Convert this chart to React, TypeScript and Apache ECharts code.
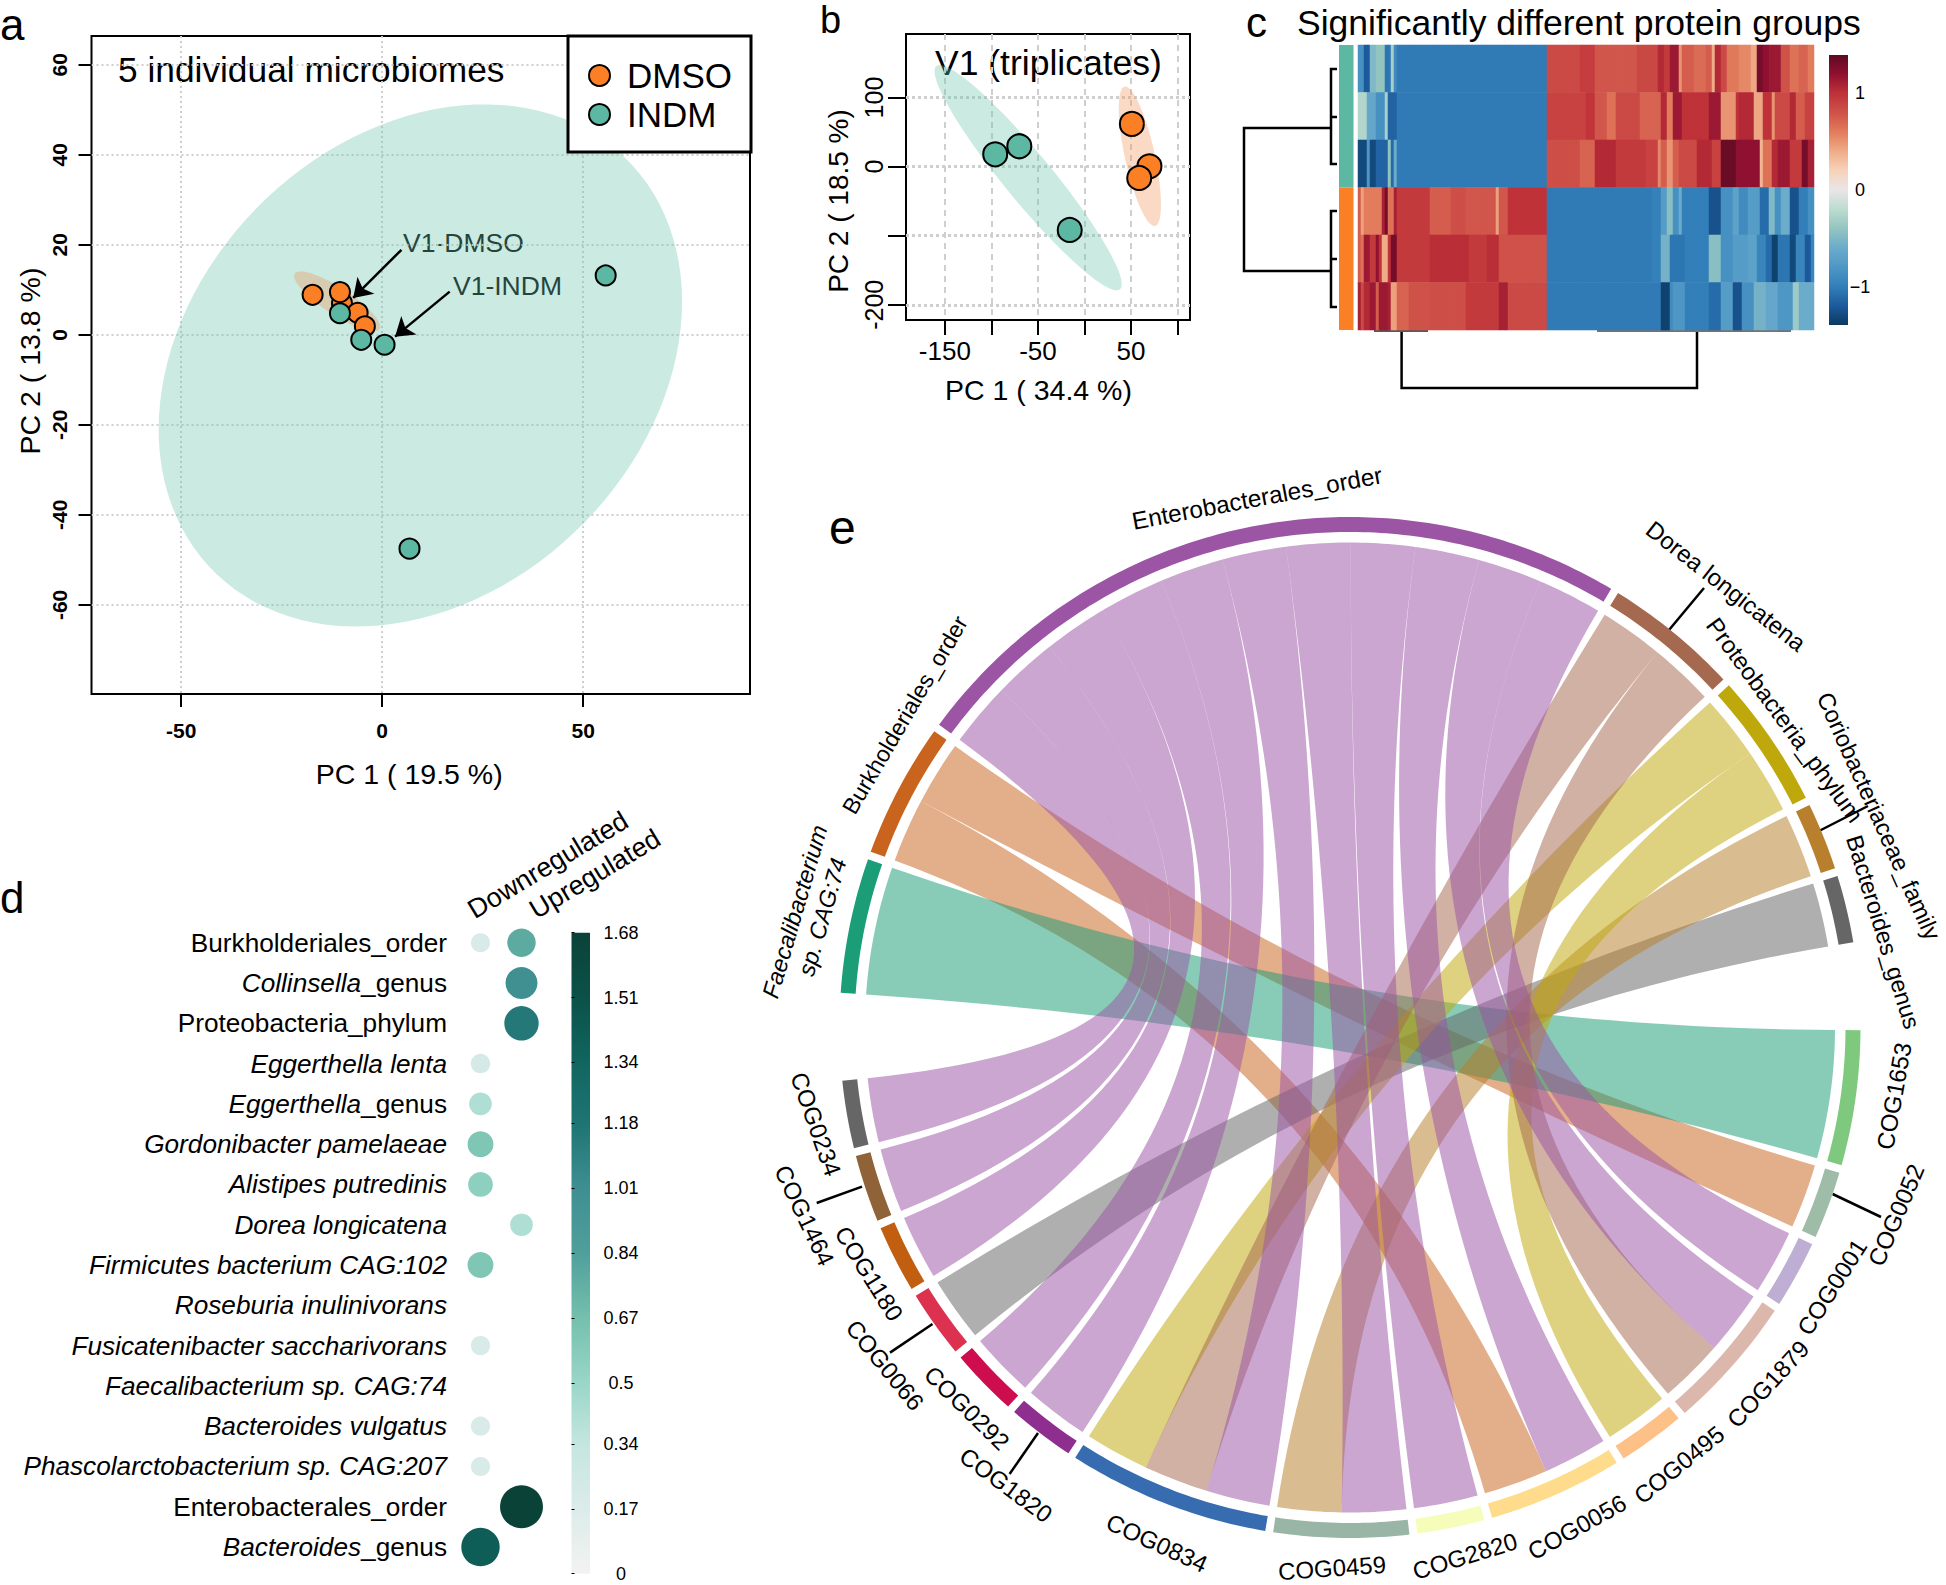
import React, { useEffect, useRef } from "react";
import * as echarts from "echarts";

const FONT = "Liberation Sans";

/* ---------- panel a ---------- */
const aDmso = [[-17.3, 8.9], [-10, 7], [-10.5, 9.5], [-6.1, 4.9], [-4.3, 1.9]];
const aIndm = [[-10.5, 4.8], [-5.2, -1.1], [0.6, -2.2], [55.6, 13.2], [6.8, -47.5]];
// centre x, centre y, half extent x, half extent y, cos(phase) of the tilt
const aEllipseIndm = [9.5, -6.8, 65.1, 58, 0.245];
const aEllipseDmso = [-11.2, 7.45, 10.7, 6.65, -0.85];
const aXTicks = [-50, 0, 50];
const aYTicks = [-60, -40, -20, 0, 20, 40, 60];
const aArrows = [
  { name: "V1-DMSO", from: [4.8, 18.9], to: [-7.2, 8.2] },
  { name: "V1-INDM", from: [16.8, 9.6], to: [3.2, -0.4] },
];

/* ---------- panel b ---------- */
const bDmso = [[51, 61.9], [69.9, 0.5], [58.9, -16.4]];
const bIndm = [[-70, 29.5], [-95.9, 17.9], [-15.8, -91.7]];
const bEllipseIndm = [-60.5, -16, 100.6, 163, -0.945];
const bEllipseDmso = [59.6, 15, 22.7, 101, -0.69];
const bXTicks = [-150, -100, -50, 0, 50, 100];
const bXLabels = [-150, -50, 50];
const bYTicks = [-200, -100, 0, 100];
const bYLabels = [-200, 0, 100];

/* ---------- panel c: rows as runs of [value, column count] ---------- */
const cRowRuns: number[][][] = [
  [[-.85,2],[-1.2,2],[-.5,2],[-.4,3],[-1.05,2],[-.3,1],[-.9,1],[-1.02,50],
   [.85,11],[.93,5],[.78,14],[.86,7],[1.05,2],[.95,2],[1.15,3],[.5,1],[.75,4],[.68,4],[.75,2],[.4,1],[1.05,2],[.85,2],[.62,4],[.55,4],[.42,2],[1.3,2],[1.2,2],[1.15,4],[.8,3],[.65,3],[.72,3],[.6,2]],
  [[-.25,3],[-.65,3],[-.85,3],[-.3,1],[-1.15,3],[-1.02,50],
   [.9,13],[.98,3],[.78,4],[.65,3],[.85,8],[.72,7],[1.05,2],[.6,2],[1.15,3],[1,9],[1.15,4],[.5,5],[1,1],[1.05,5],[.42,3],[1,3],[.5,1],[.85,5],[1.05,2],[.75,3],[.9,3]],
  [[-1.3,3],[-.8,1],[-1.3,2],[-1.15,4],[-.4,1],[-1.1,1],[-.6,1],[-1.02,50],
   [.82,11],[.72,5],[1.05,7],[.95,10],[.9,4],[.55,1],[.75,2],[.5,2],[.75,2],[.85,6],[1.05,5],[.9,3],[1.35,5],[1.2,8],[.35,1],[.65,3],[1.05,2],[1.15,4],[.95,4],[1.3,2],[1.1,2]],
  [[.75,1],[.45,1],[.6,6],[1.1,1],[1.3,1],[.65,2],[1.1,1],[.95,11],[.75,7],[.82,5],[.78,10],[.45,1],[.78,3],[1,13],
   [-1.02,35],[-.98,3],[-.75,2],[-.45,2],[-.85,2],[-.6,1],[-1,9],[-1.25,4],[-.85,4],[-.7,2],[-.9,3],[-.75,4],[-1.1,3],[-.5,2],[-.85,2],[-.6,3],[-1.25,3],[-1,3],[-.85,2]],
  [[.75,1],[.65,1],[1.15,2],[.95,2],[1.2,1],[1,1],[.4,2],[1,1],[1.3,2],[.95,11],[1.02,13],[.95,6],[1.02,4],[.8,16],
   [-1.02,35],[-.98,3],[-.55,3],[-1.05,5],[-1,8],[-.45,4],[-.85,4],[-.75,5],[-.7,3],[-.95,3],[-1.1,2],[-1.35,2],[-1.05,4],[-1.3,2],[-.95,3],[-1.2,2],[-.95,1]],
  [[1.1,1],[.85,1],[1.05,2],[1.15,2],[.75,1],[1.15,3],[1.1,1],[.45,2],[.72,4],[.8,7],[.82,12],[.95,11],[1.1,3],[.85,13],
   [-1.02,38],[-1.35,3],[-.9,1],[-.8,4],[-1,8],[-1.1,4],[-.75,4],[-1.25,3],[-.85,4],[-.55,4],[-.65,4],[-.8,5],[-.35,2],[-.6,5]],
];
const cGroups = ["INDM", "DMSO"];
const cGroupColors = ["#5cb8a2", "#fb7f24"];
const cScale = ["#0b3a60","#1c5a9c","#327fb9","#4e97c5","#6baccb","#93c4c0","#bcdcd0","#e9e6e6","#f6d3ba","#efac88","#e27c5c","#cf5249","#bf3238","#8f1030","#5e0a24"];
const cBarTicks = [-1, 0, 1];

/* ---------- panel d ---------- */
const dRows = [
  "Burkholderiales_order","Collinsella_genus","Proteobacteria_phylum","Eggerthella lenta","Eggerthella_genus",
  "Gordonibacter pamelaeae","Alistipes putredinis","Dorea longicatena","Firmicutes bacterium CAG:102","Roseburia inulinivorans",
  "Fusicatenibacter saccharivorans","Faecalibacterium sp. CAG:74","Bacteroides vulgatus","Phascolarctobacterium sp. CAG:207",
  "Enterobacterales_order","Bacteroides_genus",
];
const dRowItalic = [false,true,false,true,true,true,true,true,true,true,true,true,true,true,false,true];
const dColumns = ["Downregulated", "Upregulated"];
const dDown = [0.2,null,null,0.22,0.42,0.62,0.55,null,0.62,null,0.2,null,0.2,0.2,null,1.4];
const dUp = [0.78,1,1.15,null,null,null,null,0.42,null,null,null,null,null,null,1.68,null];
const dScale = ["#f2f3f1","#dcecea","#c5e6e0","#98d6c7","#74bfad","#509f9b","#3f8f92","#1f7573","#10655f","#0b5148","#0a4238"];
const dBarTicks = [0,0.17,0.34,0.5,0.67,0.84,1.01,1.18,1.34,1.51,1.68];

/* ---------- panel e ---------- */
const eSectors = [
  "Faecalibacterium sp. CAG:74","Burkholderiales_order","Enterobacterales_order","Dorea longicatena","Proteobacteria_phylum",
  "Coriobacteriaceae_family","Bacteroides_genus","COG1653","COG0052","COG0001","COG1879","COG0495","COG0056","COG2820",
  "COG0459","COG0834","COG1820","COG0292","COG0066","COG1180","COG1464","COG0234",
];
const eSectorColors = [
  "#1b9e77","#c9641e","#9c55a5","#a5694f","#bfa80b","#b87f2c","#666666","#7fc97f","#9fbca9","#beaed4","#dcb7ab","#fdc086",
  "#fedc8c","#f6fdba","#99b5a5","#386cb0","#8e2e8f","#ce0d4e","#dd3150","#c25e10","#8f6238","#666666",
];
const eLinkSource = [
  "Enterobacterales_order","Enterobacterales_order","Enterobacterales_order","Enterobacterales_order","Enterobacterales_order","Enterobacterales_order",
  "Enterobacterales_order","Enterobacterales_order","Enterobacterales_order","Enterobacterales_order","Enterobacterales_order",
  "Dorea longicatena","Dorea longicatena","Proteobacteria_phylum","Proteobacteria_phylum","Coriobacteriaceae_family","Bacteroides_genus",
  "Faecalibacterium sp. CAG:74","Burkholderiales_order","Burkholderiales_order",
];
const eLinkTarget = [
  "COG0234","COG1464","COG1180","COG0292","COG1820","COG0834","COG0459","COG2820","COG0056","COG1879","COG0001",
  "COG0834","COG1879","COG0834","COG0495","COG0459","COG0066","COG1653","COG0056","COG0052",
];
const eLinkValue = [1,1,1,1,1,1,1,1,1,1,1,1,1,1,1,1,1,2,1,1];

/* ---------- chord layout, all angles clockwise from twelve o'clock ---------- */
const CX = 1350, CY = 1027.5, R_OUT = 510.5, R_IN = 495.5, R_LINK = 485;
const START = 273.9, GAP = 0.9, BIG_GAP = 9.9;
const BIG_GAP_AFTER = ["Bacteroides_genus", "COG0234"];
const sectorUnits = eSectors.map((n) =>
  eLinkValue.reduce((s, v, i) => s + (eLinkSource[i] === n || eLinkTarget[i] === n ? v : 0), 0));
const totalUnits = sectorUnits.reduce((a, b) => a + b, 0);
const DEG_PER_UNIT = (360 - BIG_GAP * 2 - GAP * (eSectors.length - 2)) / totalUnits;
const sectorStart: Record<string, number> = {};
const sectorEnd: Record<string, number> = {};
{
  let a = START;
  eSectors.forEach((n, i) => {
    sectorStart[n] = a;
    a += sectorUnits[i] * DEG_PER_UNIT;
    sectorEnd[n] = a;
    a += BIG_GAP_AFTER.includes(n) ? BIG_GAP : GAP;
  });
}
const cursor: Record<string, number> = { ...sectorStart };
const linkArcs = eLinkValue.map((v, i) => {
  const s = eLinkSource[i], t = eLinkTarget[i];
  const a0 = cursor[s]; cursor[s] += v * DEG_PER_UNIT;
  const b0 = cursor[t]; cursor[t] += v * DEG_PER_UNIT;
  return { a0, a1: a0 + v * DEG_PER_UNIT, b0, b1: b0 + v * DEG_PER_UNIT };
});
const polar = (deg: number, r: number) => {
  const t = (deg * Math.PI) / 180;
  return [CX + r * Math.sin(t), CY - r * Math.cos(t)];
};
const arcPts = (a0: number, a1: number, r: number) => {
  const n = Math.max(2, Math.ceil(Math.abs(a1 - a0) * 1.5));
  const p = [];
  for (let i = 0; i <= n; i++) p.push(polar(a0 + ((a1 - a0) * i) / n, r));
  return p;
};
const quadPts = (p0: number[], p2: number[]) => {
  const p = [];
  for (let i = 1; i < 48; i++) {
    const t = i / 48, u = 1 - t;
    p.push([u * u * p0[0] + 2 * u * t * CX + t * t * p2[0], u * u * p0[1] + 2 * u * t * CY + t * t * p2[1]]);
  }
  return p;
};
const rgba = (hex: string, a: number) => {
  const n = parseInt(hex.slice(1), 16);
  return `rgba(${n >> 16},${(n >> 8) & 255},${n & 255},${a})`;
};

/* ---------- helpers ---------- */
const text = (t: string, x: number, y: number, fontSize: number, o: any = {}) => ({
  type: "text", x, y, silent: true, rotation: ((o.rot || 0) * Math.PI) / 180,
  style: {
    text: t, fontSize, fontFamily: FONT, fontStyle: o.italic ? "italic" : "normal",
    fontWeight: o.bold ? "bold" : "normal", fill: "#000", align: o.align || "center", verticalAlign: "middle",
  },
});
const poly = (points: number[][], lineWidth = 2.5, stroke = "#000") => ({
  type: "polyline", silent: true, shape: { points }, style: { stroke, lineWidth, fill: null },
});
const ellipseSeries = (data: number[], color: string, gridIdx: number) => ({
  type: "custom", coordinateSystem: "cartesian2d", xAxisIndex: gridIdx, yAxisIndex: gridIdx, silent: true,
  data: [data],
  renderItem: (_: any, api: any) => {
    const [cx, cy, A, B, c] = [0, 1, 2, 3, 4].map((k) => api.value(k));
    const phi = Math.acos(c);
    const points = [];
    for (let i = 0; i < 120; i++) {
      const t = (i / 120) * Math.PI * 2;
      points.push(api.coord([cx + A * Math.cos(t), cy + B * Math.cos(t - phi)]));
    }
    return { type: "polygon", shape: { points }, style: { fill: color } };
  },
});
const pointSeries = (name: string, data: number[][], color: string, gridIdx: number, size: number) => ({
  name, type: "scatter", xAxisIndex: gridIdx, yAxisIndex: gridIdx, data, symbolSize: size, silent: true,
  itemStyle: { color, borderColor: "#000", borderWidth: 2, opacity: 1 },
});
const gradient = (cols: string[]) =>
  new echarts.graphic.LinearGradient(0, 0, 0, 1, [...cols].reverse().map((color, i) => ({ offset: i / (cols.length - 1), color })));

const GREEN = "rgba(102,194,172,0.35)";
const TAN = "rgba(240,150,90,0.35)";
const ORANGE = "#fb7f24";
const TEAL = "#5cb8a2";
const GRID_GREY = "#cfcfcf";

const App = () => {
  const ref = useRef<HTMLDivElement>(null);
  useEffect(() => {
    document.body.style.margin = "0";
    const chart = echarts.init(ref.current!, undefined, { renderer: "svg" });

    const cData: number[][] = [];
    cRowRuns.forEach((runs, r) => {
      let col = 0;
      runs.forEach(([v, n]) => { for (let k = 0; k < n; k++) cData.push([col++, r, v]); });
    });
    const cCols = Array.from({ length: 152 }, (_, i) => String(i));

    const dData: number[][] = [];
    dRows.forEach((_, i) => {
      if (dDown[i] != null) dData.push([0, i, dDown[i] as number]);
      if (dUp[i] != null) dData.push([1, i, dUp[i] as number]);
    });

    const axisFont = { color: "#000", fontFamily: FONT };
    const hiddenAxis = { show: false };
    const freeLine = { show: false, onZero: false };
    const gridBase = { outerBoundsMode: "none", containLabel: false };

    const labelPlaces: any[] = [
      ["Enterobacterales_order", 1257, 498, 10.6, 24.3],
      ["Dorea longicatena", 1726, 586, -38, 24],
      ["Proteobacteria_phylum", 1785, 720, -53.7, 24],
      ["Coriobacteriaceae_family", 1879, 816, -65.8, 23.8],
      ["Bacteroides_genus", 1883, 932, -72.9, 23.5],
      ["COG1653", 1894, 1096, 80, 24],
      ["COG0052", 1896, 1215, 67, 24],
      ["COG0001", 1832, 1287, 57.6, 24],
      ["COG1879", 1768, 1384, 47.4, 24],
      ["COG0495", 1679, 1464.6, 39, 24],
      ["COG0056", 1577, 1527, 29, 24],
      ["COG2820", 1465, 1556, 17, 24],
      ["COG0459", 1332, 1568, 4, 24],
      ["COG0834", 1157, 1543, -24.6, 24],
      ["COG1820", 1006, 1485, -36.5, 24],
      ["COG0292", 967, 1408, -44.4, 24],
      ["COG0066", 885, 1365, -51, 24],
      ["COG1180", 869, 1273.5, -58, 24],
      ["COG1464", 804.6, 1215.5, -64.6, 24],
      ["COG0234", 816, 1124, -70.6, 24],
      ["Burkholderiales_order", 905, 715, 59.7, 23],
    ];
    const leaders = [
      [[1669, 630], [1704, 588]],
      [[1819, 831], [1868, 806]],
      [[1832.6, 1194], [1881, 1217]],
      [[1009.6, 1474], [1038, 1433]],
      [[932.5, 1324], [890, 1352.6]],
      [[862, 1186.6], [816.7, 1203]],
    ];

    chart.setOption({
      animation: false,
      backgroundColor: "#fff",
      textStyle: { fontFamily: FONT },
      legend: {
        data: ["DMSO", "INDM"], selectedMode: false, orient: "vertical", left: 568, top: 36,
        icon: "circle", itemWidth: 21, itemHeight: 21, itemGap: 4,
        padding: [22, 19, 20, 20], backgroundColor: "#fff", borderColor: "#000", borderWidth: 3,
        textStyle: { fontSize: 35, fontFamily: FONT, color: "#000", padding: [0, 0, 0, 12] },
      },
      grid: [
        { ...gridBase, left: 91.5, top: 36, width: 658.5, height: 658, show: true, borderColor: "#000", borderWidth: 2 },
        { ...gridBase, left: 906, top: 34, width: 284, height: 286, show: true, borderColor: "#000", borderWidth: 2 },
        { ...gridBase, left: 1358, top: 45, width: 456, height: 285 },
        { ...gridBase, left: 1339, top: 45, width: 14.5, height: 285 },
        { ...gridBase, left: 1829, top: 55, width: 19, height: 270, show: true, borderWidth: 0, backgroundColor: gradient(cScale) },
        { ...gridBase, left: 460, top: 922.6, width: 82, height: 644.6 },
        { ...gridBase, left: 571.5, top: 932.7, width: 18.5, height: 641, show: true, borderWidth: 0, backgroundColor: gradient(dScale) },
      ],
      xAxis: [
        {
          gridIndex: 0, type: "value", min: -72.3, max: 91.5, name: "PC 1 ( 19.5 %)", nameLocation: "middle", nameGap: 65,
          nameTextStyle: { ...axisFont, fontSize: 28.5, padding: [0, 23, 0, 0] },
          axisLine: freeLine,
          axisTick: { show: true, length: 13, customValues: aXTicks, lineStyle: { color: "#000", width: 2 } },
          axisLabel: { ...axisFont, fontSize: 21, fontWeight: "bold", margin: 26, customValues: aXTicks },
          splitLine: { show: true, lineStyle: { color: GRID_GREY, width: 2, type: [2, 3] } },
        },
        {
          gridIndex: 1, type: "value", min: -191.8, max: 113.5, name: "PC 1 ( 34.4 %)", nameLocation: "middle", nameGap: 55,
          nameTextStyle: { ...axisFont, fontSize: 28.5, padding: [0, 19, 0, 0] },
          axisLine: freeLine,
          axisTick: { show: true, length: 15, customValues: bXTicks, lineStyle: { color: "#000", width: 2 } },
          axisLabel: { ...axisFont, fontSize: 26, margin: 18, customValues: bXLabels },
          splitLine: { show: true, lineStyle: { color: GRID_GREY, width: 2, type: [6, 5] } },
        },
        { gridIndex: 2, type: "category", data: cCols, ...hiddenAxis },
        { gridIndex: 3, type: "value", min: 0, max: 1, ...hiddenAxis },
        { gridIndex: 4, type: "value", min: 0, max: 1, ...hiddenAxis },
        { gridIndex: 5, type: "category", data: dColumns, ...hiddenAxis },
        { gridIndex: 6, type: "value", min: 0, max: 1, ...hiddenAxis },
      ],
      yAxis: [
        {
          gridIndex: 0, type: "value", min: -79.8, max: 66.4, name: "PC 2 ( 13.8 %)", nameLocation: "middle", nameGap: 47,
          nameTextStyle: { ...axisFont, fontSize: 28.5, padding: [0, 0, 0, 8] },
          axisLine: freeLine,
          axisTick: { show: true, length: 13, customValues: aYTicks, lineStyle: { color: "#000", width: 2 } },
          axisLabel: { ...axisFont, fontSize: 21, fontWeight: "bold", rotate: 90, margin: 22, customValues: aYTicks },
          splitLine: { show: true, lineStyle: { color: GRID_GREY, width: 2, type: [2, 3] } },
        },
        {
          gridIndex: 1, type: "value", min: -222, max: 192, name: "PC 2 ( 18.5 %)", nameLocation: "middle", nameGap: 54,
          nameTextStyle: { ...axisFont, fontSize: 28, padding: [0, 48, 0, 0] },
          axisLine: freeLine,
          axisTick: { show: true, length: 18, customValues: bYTicks, lineStyle: { color: "#000", width: 2 } },
          axisLabel: { ...axisFont, fontSize: 25, rotate: 90, margin: 20, customValues: bYLabels },
          splitLine: { show: true, lineStyle: { color: GRID_GREY, width: 3, type: [3, 3] } },
        },
        { gridIndex: 2, type: "category", inverse: true, data: ["r1","r2","r3","r4","r5","r6"], ...hiddenAxis },
        { gridIndex: 3, type: "category", inverse: true, data: cGroups, ...hiddenAxis },
        {
          gridIndex: 4, type: "value", position: "right", min: -1.39, max: 1.39,
          axisLine: { show: false }, axisTick: { show: false }, splitLine: { show: false },
          axisLabel: {
            ...axisFont, fontSize: 18, margin: 12, align: "center", customValues: cBarTicks,
            formatter: (v: number) => (v < 0 ? `\u2212${-v}` : `${v}`),
          },
        },
        {
          gridIndex: 5, type: "category", inverse: true, data: dRows,
          axisLine: { show: false }, axisTick: { show: false },
          axisLabel: {
            margin: 13, align: "right",
            formatter: (v: string) => {
              const i = dRows.indexOf(v);
              if (!dRowItalic[i]) return `{n|${v}}`;
              const u = v.indexOf("_");
              return u < 0 ? `{i|${v}}` : `{i|${v.slice(0, u)}}{n|${v.slice(u)}}`;
            },
            rich: {
              n: { ...axisFont, fontSize: 26.2 },
              i: { ...axisFont, fontSize: 26.2, fontStyle: "italic" },
            },
          },
        },
        {
          gridIndex: 6, type: "value", position: "right", min: 0, max: 1.68,
          axisLine: { show: false }, splitLine: { show: false },
          axisTick: { show: true, length: 3, customValues: dBarTicks, lineStyle: { color: "#000", width: 1 } },
          axisLabel: {
            ...axisFont, fontSize: 18, margin: 31, align: "center", customValues: dBarTicks,
            formatter: (v: number) => `${v}`,
          },
        },
      ],
      visualMap: [
        { show: false, type: "continuous", min: -1.4, max: 1.4, dimension: 2, seriesIndex: 9, inRange: { color: cScale } },
        { show: false, type: "continuous", min: 0, max: 1.68, dimension: 2, seriesIndex: 11, inRange: { color: dScale } },
      ],
      series: [
        ellipseSeries(aEllipseIndm, GREEN, 0),                       // 0
        ellipseSeries(aEllipseDmso, TAN, 0),                         // 1
        pointSeries("DMSO", aDmso, ORANGE, 0, 20),                   // 2
        pointSeries("INDM", aIndm, TEAL, 0, 20),                     // 3
        {                                                            // 4
          type: "line", xAxisIndex: 0, yAxisIndex: 0, data: [], silent: true,
          markLine: {
            silent: true, symbol: ["none", "arrow"], symbolSize: 18, label: { show: false }, animation: false,
            lineStyle: { color: "#000", width: 2.5, type: "solid" },
            data: aArrows.map((a) => [{ coord: a.from }, { coord: a.to }]),
          },
        },
        ellipseSeries(bEllipseIndm, GREEN, 1),                       // 5
        ellipseSeries(bEllipseDmso, TAN, 1),                         // 6
        pointSeries("DMSO", bDmso, ORANGE, 1, 24),                   // 7
        pointSeries("INDM", bIndm, TEAL, 1, 24),                     // 8
        {                                                            // 9
          type: "heatmap", xAxisIndex: 2, yAxisIndex: 2, data: cData, silent: true, progressive: 0,
          itemStyle: { borderWidth: 0 },
        },
        {                                                            // 10
          type: "bar", xAxisIndex: 3, yAxisIndex: 3, barWidth: "100%", silent: true,
          data: cGroups.map((_, i) => ({ value: 1, itemStyle: { color: cGroupColors[i] } })),
        },
        {                                                            // 11
          type: "scatter", xAxisIndex: 5, yAxisIndex: 5, data: dData, silent: true,
          symbolSize: (v: number[]) => 16 + 16 * v[2], itemStyle: { opacity: 1, borderWidth: 0 },
        },
        {                                                            // 12 ribbons: last link drawn first, so Enterobacterales lies on top
          type: "custom", coordinateSystem: "none", silent: true, data: [...eLinkValue].reverse().map((v) => [v]),
          renderItem: (p: any) => {
            const k = eLinkValue.length - 1 - p.dataIndex;
            const { a0, a1, b0, b1 } = linkArcs[k];
            const c = eSectorColors[eSectors.indexOf(eLinkSource[k])];
            const A = arcPts(a0, a1, R_LINK), B = arcPts(b0, b1, R_LINK);
            const points = [...A, ...quadPts(A[A.length - 1], B[0]), ...B, ...quadPts(B[B.length - 1], A[0])];
            return { type: "polygon", shape: { points }, style: { fill: rgba(c, 0.52) } };
          },
        },
        {                                                            // 13 outer ring
          type: "custom", coordinateSystem: "none", silent: true, data: sectorUnits.map((v) => [v]),
          renderItem: (p: any) => {
            const n = eSectors[p.dataIndex];
            const points = [...arcPts(sectorStart[n], sectorEnd[n], R_OUT), ...arcPts(sectorEnd[n], sectorStart[n], R_IN)];
            return { type: "polygon", shape: { points }, style: { fill: eSectorColors[p.dataIndex] } };
          },
        },
      ],
      graphic: [
        text("a", 0, 24, 44, { align: "left" }),
        text("b", 820, 20, 38, { align: "left" }),
        text("c", 1246, 22, 42, { align: "left" }),
        text("d", 0, 897, 44, { align: "left" }),
        text("e", 829, 527, 48, { align: "left" }),
        text("5 individual microbiomes", 118, 69, 35.3, { align: "left" }),
        text("V1-DMSO", 403, 243, 26.5, { align: "left" }),
        text("V1-INDM", 453, 286, 26.5, { align: "left" }),
        text("V1 (triplicates)", 935, 63, 35.5, { align: "left" }),
        text("Significantly different protein groups", 1297, 23, 35.5, { align: "left" }),
        poly([[1331, 128], [1244, 128], [1244, 271], [1331, 271]]),
        poly([[1337, 69], [1331, 69], [1331, 164], [1337, 164]]),
        poly([[1331, 117], [1337, 117]]),
        poly([[1337, 211], [1331, 211], [1331, 307], [1337, 307]]),
        poly([[1331, 259], [1337, 259]]),
        poly([[1401.6, 332], [1401.6, 388], [1697, 388], [1697, 332]]),
        poly([[1374, 331], [1428, 331]], 1.5, "#222"),
        poly([[1597, 331], [1791, 331]], 1.5, "#444"),
        text(dColumns[0], 548, 865, 27, { rot: 31 }),
        text(dColumns[1], 595, 874, 27, { rot: 31 }),
        ...labelPlaces.map(([n, x, y, rot, fs]) => text(n, x, y, fs, { rot })),
        text("Faecalibacterium", 795, 911.6, 23.5, { rot: 73.7, italic: true }),
        text("sp. CAG:74", 822.4, 917, 23.5, { rot: 74, italic: true }),
        ...leaders.map((l) => poly(l, 2.5)),
      ],
    });
    return () => chart.dispose();
  }, []);
  return <div ref={ref} style={{ position: "absolute", left: 0, top: 0, width: 1946, height: 1585 }} />;
};

export default App;
